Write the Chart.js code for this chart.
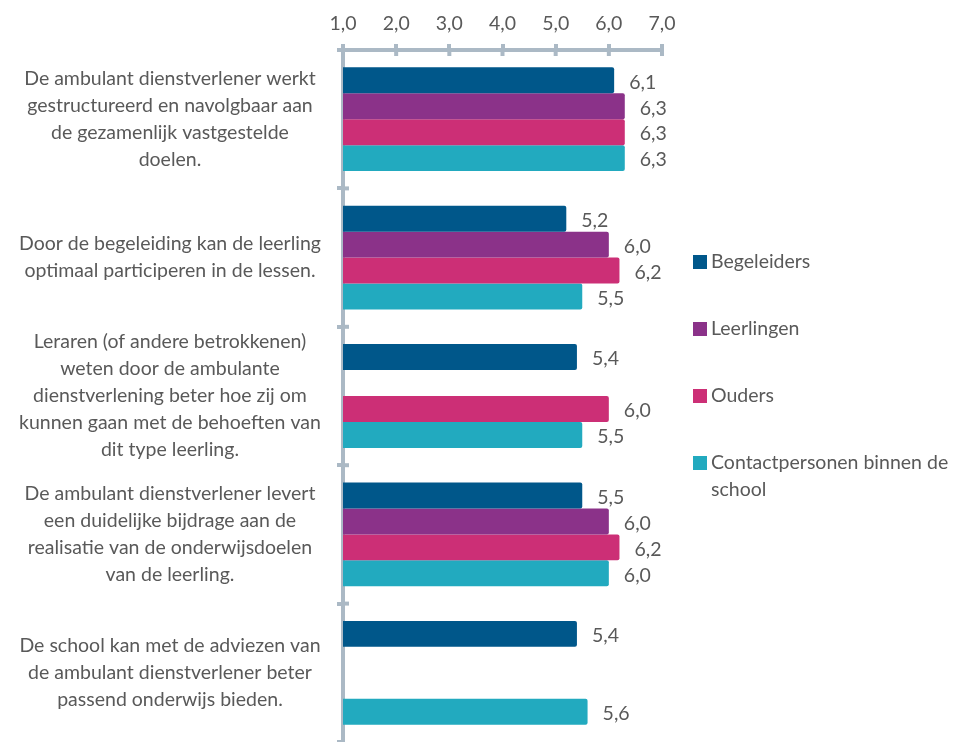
<!DOCTYPE html>
<html><head><meta charset="utf-8">
<script src="https://cdn.jsdelivr.net/npm/chart.js@4.4.1/dist/chart.umd.min.js"></script>
<style>html,body{margin:0;padding:0;background:#fff}#wrap{width:956px;height:742px;position:relative}</style>
</head><body><div id="wrap"><canvas id="c"></canvas></div>
<script>
const categories = [
  ["De ambulant dienstverlener werkt", "gestructureerd en navolgbaar aan", "de gezamenlijk vastgestelde", "doelen."],
  ["Door de begeleiding kan de leerling", "optimaal participeren in de lessen."],
  ["Leraren (of andere betrokkenen)", "weten door de ambulante", "dienstverlening beter hoe zij om", "kunnen gaan met de behoeften van", "dit type leerling."],
  ["De ambulant dienstverlener levert", "een duidelijke bijdrage aan de", "realisatie van de onderwijsdoelen", "van de leerling."],
  ["De school kan met de adviezen van", "de ambulant dienstverlener beter", "passend onderwijs bieden."]
];
const seriesNames = ["Begeleiders", "Leerlingen", "Ouders", "Contactpersonen binnen de school"];
const begeleiders = [6.1, 5.2, 5.4, 5.5, 5.4];
const leerlingen = [6.3, 6.0, null, 6.0, null];
const ouders = [6.3, 6.2, 6.0, 6.2, null];
const contactpersonen = [6.3, 5.5, 5.5, 6.0, 5.6];
const tickLabels = ["1,0", "2,0", "3,0", "4,0", "5,0", "6,0", "7,0"];
const seriesColors = ["#00578A", "#8B3289", "#CC2F76", "#22AABF"];

const FONT = "Lato";
const FS = 19.5;
const TEXT = "#595959";
const AXIS = "#ABB9C5";

const fmt = v => v.toFixed(1).replace('.', ',');

const dataLabels = {
  id: 'dataLabels',
  afterDatasetsDraw(chart) {
    const ctx = chart.ctx;
    ctx.save();
    ctx.font = FS + "px " + FONT;
    ctx.fillStyle = TEXT;
    ctx.textAlign = 'left';
    ctx.textBaseline = 'middle';
    chart.data.datasets.forEach((ds, di) => {
      const meta = chart.getDatasetMeta(di);
      meta.data.forEach((el, i) => {
        const v = ds.data[i];
        if (v === null || v === undefined) return;
        ctx.fillText(fmt(v), el.x + 15, el.y + 2);
      });
    });
    ctx.restore();
  }
};

const innerTicks = {
  id: 'innerTicks',
  afterDraw(chart) {
    const ctx = chart.ctx;
    const xs = chart.scales.x, ys = chart.scales.y;
    const ca = chart.chartArea;
    ctx.save();
    ctx.strokeStyle = AXIS;
    ctx.lineWidth = 4;
    xs.ticks.forEach(t => {
      const x = xs.getPixelForValue(t.value);
      ctx.beginPath(); ctx.moveTo(x, ca.top); ctx.lineTo(x, ca.top + 6); ctx.stroke();
    });
    for (let i = 1; i < categories.length; i++) {
      const y = ys.getPixelForValue(i - 0.5);
      ctx.beginPath(); ctx.moveTo(ca.left, y); ctx.lineTo(ca.left + 6, y); ctx.stroke();
    }
    ctx.restore();
  }
};

const sideLegend = {
  id: 'sideLegend',
  afterDraw(chart) {
    const ctx = chart.ctx;
    ctx.save();
    ctx.font = FS + "px " + FONT;
    ctx.textBaseline = 'middle';
    ctx.textAlign = 'left';
    const x0 = 693, textX = 711, maxW = 956 - textX - 2;
    const startY = 262, step = 67, lineH = 27;
    chart.data.datasets.forEach((ds, i) => {
      const y = startY + i * step;
      ctx.fillStyle = ds.backgroundColor;
      ctx.fillRect(x0, y - 7, 14, 14);
      ctx.fillStyle = TEXT;
      const words = ds.label.split(' ');
      let line = '', ly = y;
      words.forEach(w => {
        const test = line ? line + ' ' + w : w;
        if (ctx.measureText(test).width > maxW && line) {
          ctx.fillText(line, textX, ly);
          line = w; ly += lineH;
        } else line = test;
      });
      ctx.fillText(line, textX, ly);
    });
    ctx.restore();
  }
};

const dataArrays = [begeleiders, leerlingen, ouders, contactpersonen];

new Chart(document.getElementById('c'), {
  type: 'bar',
  data: {
    labels: categories,
    datasets: seriesNames.map((n, i) => ({
      label: n,
      data: dataArrays[i],
      backgroundColor: seriesColors[i],
      borderWidth: 0,
      borderRadius: 2,
      borderSkipped: 'start',
      categoryPercentage: 0.75,
      barPercentage: 1.0
    }))
  },
  options: {
    indexAxis: 'y',
    responsive: true,
    maintainAspectRatio: false,
    animation: false,
    layout: { padding: { top: 0, right: 294, bottom: 0, left: 0 } },
    plugins: { legend: { display: false }, tooltip: { enabled: false } },
    scales: {
      x: {
        position: 'top',
        min: 1, max: 7,
        afterFit(s) { s.height = 50; s.paddingLeft = 0; s.paddingRight = 0; },
        ticks: {
          stepSize: 1,
          padding: 9,
          color: TEXT,
          font: { family: FONT, size: FS },
          callback: (v, i) => tickLabels[i]
        },
        grid: { drawOnChartArea: false, drawTicks: true, tickLength: 6, lineWidth: 4, color: AXIS },
        border: { display: true, color: AXIS, width: 4 }
      },
      y: {
        afterFit(s) { s.width = 343; s.paddingTop = 0; s.paddingBottom = 0; },
        ticks: {
          autoSkip: false,
          crossAlign: 'center',
          padding: 16,
          color: TEXT,
          font: { family: FONT, size: FS, lineHeight: 27 / FS }
        },
        grid: { offset: true, drawOnChartArea: false, drawTicks: true, tickLength: 6, lineWidth: 4, color: AXIS },
        border: { display: true, color: AXIS, width: 4 }
      }
    }
  },
  plugins: [dataLabels, innerTicks, sideLegend]
});
</script></body></html>
